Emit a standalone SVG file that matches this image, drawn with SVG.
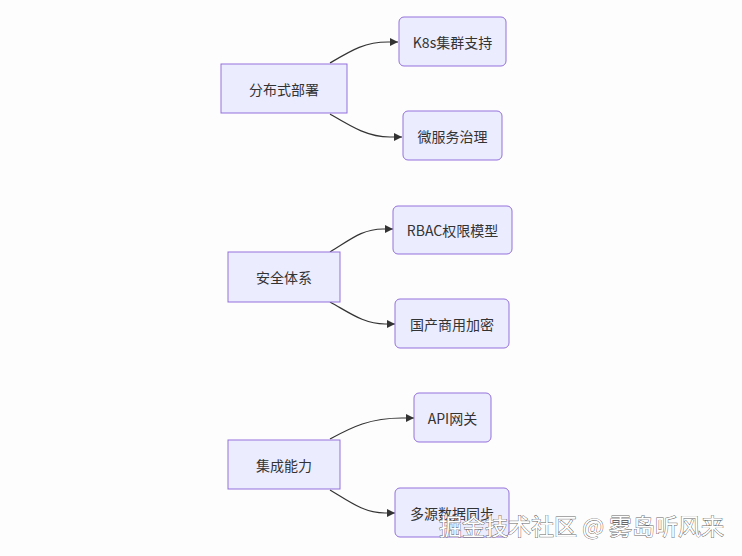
<svg xmlns="http://www.w3.org/2000/svg" width="742" height="556" viewBox="0 0 742 556">
<style>
.n rect{fill:#ECECFF;stroke:#9370DB;stroke-width:1}
.n text{font-family:"Noto Sans CJK SC","Noto Sans",sans-serif;font-size:14px;fill:#333;text-anchor:middle;dominant-baseline:central}
.e path{fill:none;stroke:#333;stroke-width:1.2;marker-end:url(#arr)}
.wm{font-family:"Noto Sans CJK SC",sans-serif;font-size:23px;fill:#fff;stroke:#666;stroke-width:0.9;paint-order:stroke}
</style>
<defs>
<marker id="arr" viewBox="0 0 10 10" refX="10" refY="5" markerWidth="8" markerHeight="8" markerUnits="userSpaceOnUse" orient="auto">
<path d="M0,0 L10,5 L0,10 z" fill="#333"/>
</marker>
</defs>
<rect width="742" height="556" fill="#fdfdfd"/>
<g id="edges" class="e">
<path d="M330,63 C352,50 365,42 388,42 L398,42"/>
<path d="M330,114 C352,127 368,137 390,137 L402,137"/>
<path d="M330,252 C350,240 362,229 383,229 L393,229"/>
<path d="M330,302 C350,313 364,324 385,324 L395,324"/>
<path d="M330,439 C352,427 370,418 402,418 L414,418"/>
<path d="M330,490 C350,502 364,513 385,513 L395,513"/>
</g>
<g id="n1" class="n"><rect x="221" y="64" width="126" height="49"/><text x="284" y="88.5">分布式部署</text></g>
<g id="n2" class="n"><rect x="399" y="17" width="107" height="49" rx="5"/><text x="452.5" y="41.5">K8s集群支持</text></g>
<g id="n3" class="n"><rect x="403" y="111" width="99" height="49" rx="5"/><text x="452.5" y="135.5">微服务治理</text></g>
<g id="n4" class="n"><rect x="228" y="252" width="112" height="50"/><text x="284" y="277">安全体系</text></g>
<g id="n5" class="n"><rect x="393" y="206" width="119" height="48" rx="5"/><text x="452.5" y="230">RBAC权限模型</text></g>
<g id="n6" class="n"><rect x="395" y="299" width="114" height="49" rx="5"/><text x="452" y="323.5">国产商用加密</text></g>
<g id="n7" class="n"><rect x="228" y="440" width="112" height="49"/><text x="284" y="464.5">集成能力</text></g>
<g id="n8" class="n"><rect x="414" y="393" width="77" height="49" rx="5"/><text x="452.5" y="417.5">API网关</text></g>
<g id="n9" class="n"><rect x="395" y="488" width="114" height="49" rx="5"/><text x="452" y="512.5">多源数据同步</text></g>
<text class="wm" x="439" y="535">掘金技术社区 @ 雾岛听风来</text>
</svg>
